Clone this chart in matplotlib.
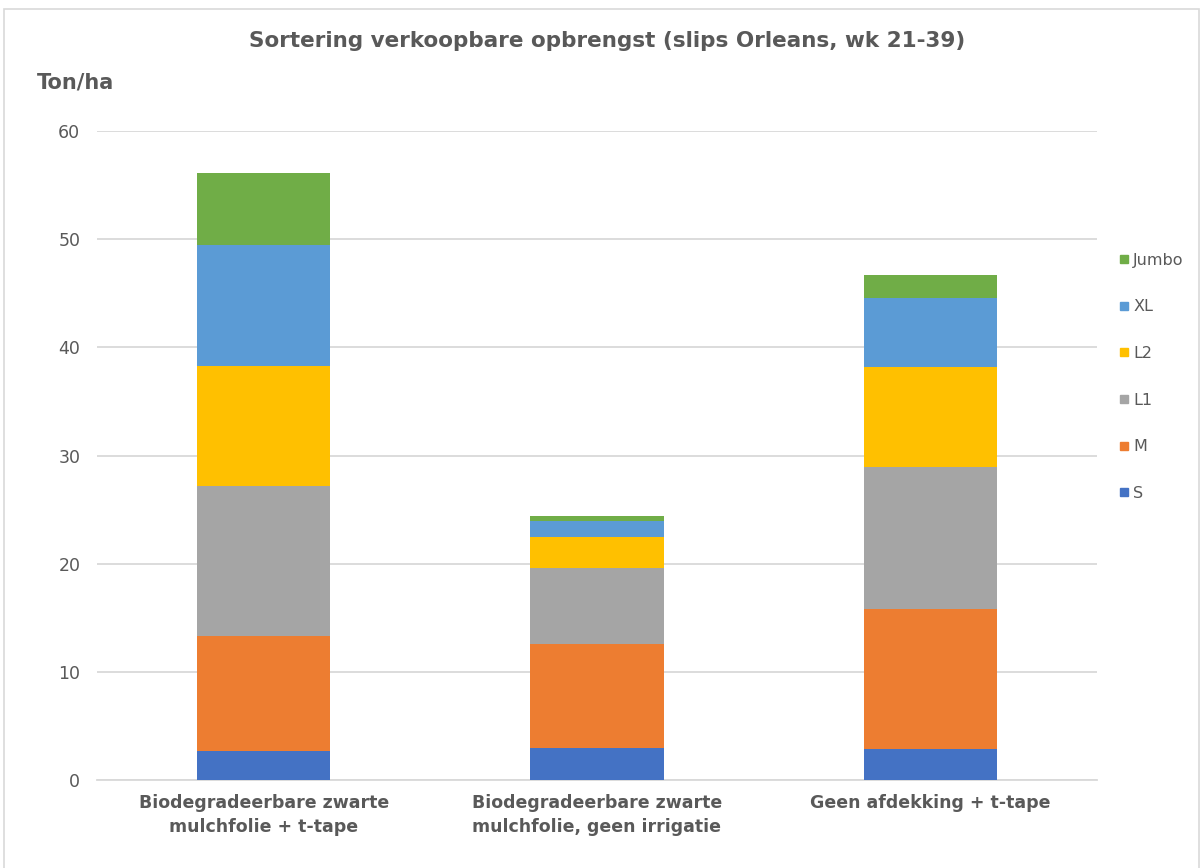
import numpy as np
import matplotlib.pyplot as plt
from matplotlib.patches import Rectangle
from matplotlib.lines import Line2D

# sortering per behandeling (ton/ha)
behandelingen = ["Biodegradeerbare zwarte\nmulchfolie + t-tape",
                 "Biodegradeerbare zwarte\nmulchfolie, geen irrigatie",
                 "Geen afdekking + t-tape"]
S = [2.7, 3.0, 2.9]
M = [10.6, 9.6, 12.9]
L1 = [13.9, 7.0, 13.1]
L2 = [11.1, 2.9, 9.3]
XL = [11.2, 1.4, 6.4]
Jumbo = [6.6, 0.5, 2.1]

klassen = ["S", "M", "L1", "L2", "XL", "Jumbo"]
reeksen = [S, M, L1, L2, XL, Jumbo]
kleuren = ["#4472C4", "#ED7D31", "#A5A5A5", "#FFC000", "#5B9BD5", "#70AD47"]

tekst = "#595959"
plt.rcParams['font.family'] = ['DejaVu Sans']

fig = plt.figure(figsize=(12.03, 8.68), dpi=100)
ax = fig.add_axes([0.0806, 0.1014, 0.8313, 0.7476])

x = np.arange(len(behandelingen))
bodem = np.zeros(len(behandelingen))
for naam, waarden, kleur in zip(klassen, reeksen, kleuren):
    ax.bar(x, waarden, width=0.40, bottom=bodem, color=kleur, label=naam, zorder=3)
    bodem += np.array(waarden)

ax.set_xlim(-0.5, 2.5)
ax.set_ylim(0, 60)
ax.set_yticks(range(0, 61, 10))
ax.grid(axis='y', color='#D9D9D9', linewidth=1.3, zorder=0)
for s in ['top', 'right', 'left']:
    ax.spines[s].set_visible(False)
ax.spines['bottom'].set_color('#D9D9D9')
ax.spines['bottom'].set_linewidth(1.3)
ax.tick_params(axis='both', length=0, colors=tekst)
ax.tick_params(axis='y', labelsize=12.5, pad=12)
ax.set_xticks(x)
ax.set_xticklabels(behandelingen, fontsize=12.5, fontweight='bold', color=tekst,
                   linespacing=1.45)
ax.tick_params(axis='x', pad=10)

fig.text(0.505, 0.953, "Sortering verkoopbare opbrengst (slips Orleans, wk 21-39)",
         ha='center', va='center', fontsize=15.5, fontweight='bold', color=tekst)
fig.text(0.031, 0.905, "Ton/ha", ha='left', va='center', fontsize=15,
         fontweight='bold', color=tekst)

# legenda rechts, Jumbo bovenaan
handles = [Line2D([], [], marker='s', linestyle='none', markersize=5.5,
                  markerfacecolor=k, markeredgecolor=k) for k in kleuren]
leg = fig.legend(handles[::-1], klassen[::-1], loc='center left',
                 bbox_to_anchor=(0.918, 0.566), frameon=False, fontsize=11.5,
                 labelspacing=1.98, handlelength=0.6, handletextpad=0.3,
                 labelcolor=tekst)

fig.patches.append(Rectangle((0.003, -0.01), 0.994, 1.0, transform=fig.transFigure,
                             fill=False, edgecolor='#D9D9D9', linewidth=1.2))

fig.savefig("out.png", dpi=100)
